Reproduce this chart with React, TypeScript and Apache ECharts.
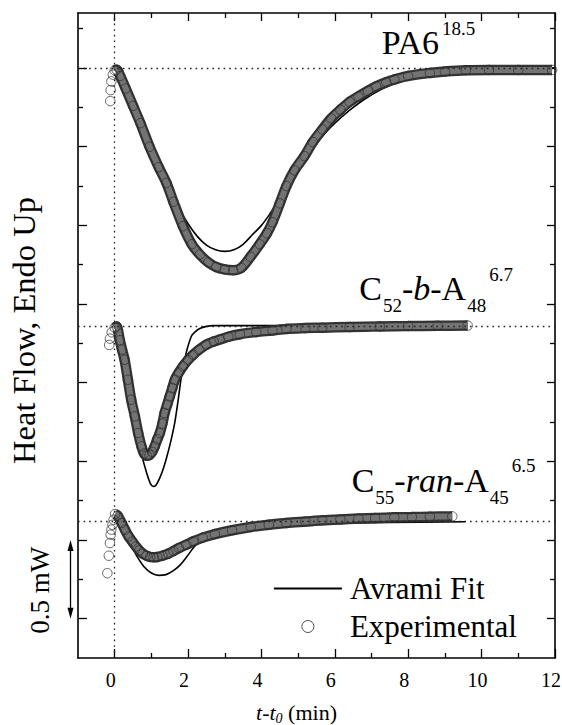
import React, { useEffect, useRef } from "react";
import * as echarts from "echarts";

// ---------- axes ----------
const xMin = -1;
const xMax = 12;
const yMin = 0;
const yMax = 4.1;
const xMajorTicks = [0, 2, 4, 6, 8, 10, 12];
const xMinorTicks = [1, 3, 5, 7, 9, 11];
const yMajorTicks = [0.25, 0.75, 1.25, 1.75, 2.25, 2.75, 3.25, 3.75];
const yMinorTicks = [0.5, 1, 1.5, 2, 2.5, 3, 3.5, 4];

// ---------- dotted reference lines ----------
const baselines = [3.755, 2.113, 0.868];
const onsetX = [0];
const scaleBar = [0.25, 0.75]; // 0.5 mW

// ---------- PA6 18.5 ----------
const pa6PreX = [-0.12, -0.11, -0.09, -0.05];
const pa6PreY = [3.54, 3.61, 3.665, 3.708];
const pa6ExpX = [0, 0.05, 0.15, 0.3, 0.5, 0.7, 0.95, 1.2, 1.41, 1.6, 1.86, 2.1, 2.32, 2.55, 2.77, 3.0, 3.23, 3.45, 3.7, 3.95, 4.15, 4.3, 4.5, 4.68, 4.9, 5.17, 5.4, 5.66, 5.9, 6.15, 6.4, 6.64, 6.9, 7.13, 7.4, 7.62, 8.0, 8.59, 9.0, 9.57, 10.2, 11.0, 11.92];
const pa6ExpY = [3.735, 3.74, 3.70, 3.62, 3.51, 3.40, 3.25, 3.12, 3.02, 2.90, 2.745, 2.63, 2.565, 2.515, 2.485, 2.47, 2.465, 2.48, 2.55, 2.63, 2.70, 2.77, 2.89, 3.0, 3.10, 3.19, 3.28, 3.36, 3.43, 3.485, 3.535, 3.57, 3.605, 3.634, 3.66, 3.677, 3.70, 3.719, 3.728, 3.736, 3.738, 3.738, 3.738];
const pa6FitX = [0, 0.25, 0.5, 0.75, 1.0, 1.25, 1.5, 1.75, 2.0, 2.25, 2.5, 2.75, 3.0, 3.25, 3.5, 3.75, 4.0, 4.25, 4.5, 4.75, 5.0, 5.25, 5.5, 5.75, 6.0, 6.5, 7.0, 7.5, 8.0, 8.5, 9.0, 10.0, 11.0, 12.0];
const pa6FitY = [3.755, 3.66, 3.53, 3.39, 3.25, 3.11, 2.98, 2.86, 2.76, 2.68, 2.625, 2.595, 2.585, 2.595, 2.63, 2.69, 2.75, 2.83, 2.92, 3.01, 3.10, 3.19, 3.27, 3.34, 3.40, 3.50, 3.58, 3.64, 3.68, 3.71, 3.73, 3.745, 3.75, 3.752];

// ---------- C52-b-A48 6.7 ----------
const c52PreX = [-0.15, -0.13, -0.08];
const c52PreY = [1.99, 2.03, 2.07];
const c52ExpX = [0, 0.05, 0.14, 0.2, 0.27, 0.36, 0.45, 0.55, 0.64, 0.73, 0.8, 0.88, 0.95, 1.02, 1.09, 1.16, 1.23, 1.3, 1.36, 1.43, 1.5, 1.57, 1.64, 1.75, 1.86, 2.0, 2.14, 2.3, 2.5, 2.7, 2.86, 3.1, 3.41, 3.86, 4.3, 4.68, 5.2, 5.66, 6.4, 7.23, 8.0, 8.8, 9.62];
const c52ExpY = [2.10, 2.108, 2.02, 1.96, 1.896, 1.769, 1.642, 1.536, 1.43, 1.345, 1.30, 1.286, 1.29, 1.31, 1.345, 1.39, 1.43, 1.49, 1.557, 1.61, 1.663, 1.716, 1.769, 1.815, 1.854, 1.895, 1.928, 1.96, 1.992, 2.012, 2.024, 2.042, 2.058, 2.072, 2.082, 2.092, 2.097, 2.10, 2.104, 2.108, 2.11, 2.112, 2.113];
const c52FitX = [0, 0.15, 0.3, 0.45, 0.6, 0.75, 0.88, 0.97, 1.05, 1.13, 1.22, 1.32, 1.41, 1.5, 1.57, 1.64, 1.73, 1.82, 1.95, 2.09, 2.2, 2.32, 2.5, 2.68, 3.0, 4.0, 6.0, 8.0, 9.6];
const c52FitY = [2.113, 2.05, 1.90, 1.69, 1.47, 1.28, 1.17, 1.11, 1.09, 1.10, 1.14, 1.20, 1.27, 1.35, 1.42, 1.50, 1.64, 1.79, 1.94, 2.045, 2.075, 2.095, 2.108, 2.113, 2.113, 2.113, 2.113, 2.113, 2.113];

// ---------- C55-ran-A45 6.5 ----------
const c55PreX = [-0.2, -0.16, -0.13, -0.11, -0.09, -0.06, -0.03];
const c55PreY = [0.539, 0.65, 0.731, 0.784, 0.816, 0.847, 0.879];
const c55ExpX = [0.01, 0.08, 0.19, 0.28, 0.38, 0.48, 0.58, 0.67, 0.77, 0.87, 0.97, 1.06, 1.16, 1.3, 1.46, 1.6, 1.75, 1.95, 2.14, 2.4, 2.73, 3.2, 3.71, 4.2, 4.68, 5.2, 5.66, 6.15, 6.64, 7.1, 7.62, 8.1, 8.59, 9.2];
const c55ExpY = [0.915, 0.905, 0.858, 0.815, 0.773, 0.74, 0.709, 0.684, 0.663, 0.65, 0.642, 0.64, 0.642, 0.65, 0.663, 0.68, 0.699, 0.72, 0.741, 0.765, 0.788, 0.812, 0.833, 0.847, 0.858, 0.867, 0.875, 0.881, 0.886, 0.89, 0.894, 0.896, 0.898, 0.90];
const c55FitX = [0, 0.2, 0.4, 0.6, 0.8, 1.0, 1.2, 1.4, 1.6, 1.8, 2.0, 2.2, 2.4, 2.8, 3.5, 4.5, 6.0, 7.5, 9.55];
const c55FitY = [0.90, 0.84, 0.74, 0.65, 0.58, 0.54, 0.525, 0.53, 0.555, 0.595, 0.655, 0.715, 0.75, 0.785, 0.815, 0.84, 0.855, 0.862, 0.866];

const FONT = '"Liberation Serif", "Times New Roman", Times, serif';

const zip = (xs: number[], ys: number[]) => xs.map((x, i) => [x, ys[i]]);

const curves = [
  { fitX: pa6FitX, fitY: pa6FitY, expX: pa6ExpX, expY: pa6ExpY, preX: pa6PreX, preY: pa6PreY },
  { fitX: c52FitX, fitY: c52FitY, expX: c52ExpX, expY: c52ExpY, preX: c52PreX, preY: c52PreY },
  { fitX: c55FitX, fitY: c55FitY, expX: c55ExpX, expY: c55ExpY, preX: c55PreX, preY: c55PreY },
];

const mkX = (pos: string, ticks: number[], len: number, line: boolean) => ({
  type: "value",
  min: xMin,
  max: xMax,
  position: pos,
  axisLine: { show: line, onZero: false, lineStyle: { color: "#000", width: 1.6 } },
  axisTick: { show: true, inside: true, length: len, customValues: ticks, lineStyle: { color: "#000", width: 1.3 } },
  axisLabel: { show: false },
  splitLine: { show: false },
  axisPointer: { show: false },
});
const mkY = (pos: string, ticks: number[], len: number, line: boolean) => ({
  type: "value",
  min: yMin,
  max: yMax,
  position: pos,
  axisLine: { show: line, onZero: false, lineStyle: { color: "#000", width: 1.6 } },
  axisTick: { show: true, inside: true, length: len, customValues: ticks, lineStyle: { color: "#000", width: 1.3 } },
  axisLabel: { show: false },
  splitLine: { show: false },
  axisPointer: { show: false },
});

const labelRich = {
  m: { fontSize: 34, fontFamily: FONT, fill: "#000" },
  mi: { fontSize: 34, fontFamily: FONT, fontStyle: "italic", fill: "#000" },
  sub: { fontSize: 19, fontFamily: FONT, fill: "#000", padding: [34, 0, 0, 1] },
  sup: { fontSize: 19, fontFamily: FONT, fill: "#000", padding: [0, 0, 29, 3] },
};

export default function App() {
  const ref = useRef<HTMLDivElement>(null);
  useEffect(() => {
    const el = ref.current!;
    const chart = echarts.init(el, null, { renderer: "svg" });

    const series: any[] = [];
    curves.forEach((c, i) => {
      series.push({
        type: "line",
        name: "Avrami Fit",
        data: zip(c.fitX, c.fitY),
        symbol: "none",
        smooth: 0.35,
        lineStyle: { color: "#000", width: 1.6 },
        itemStyle: { color: "#000" },
        z: 2,
        silent: true,
        markLine:
          i === 0
            ? {
                silent: true,
                symbol: "none",
                label: { show: false },
                lineStyle: { color: "#222", type: [1.6, 4], width: 1.3 },
                data: [
                  ...baselines.map((v) => ({ yAxis: v })),
                  ...onsetX.map((v) => ({ xAxis: v })),
                ],
              }
            : undefined,
      });
      series.push({
        type: "line",
        name: "band-outer-" + i,
        data: zip(c.expX, c.expY),
        symbol: "none",
        smooth: 0.3,
        lineStyle: { color: "#333333", width: 10.5 },
        z: 3,
        silent: true,
      });
      series.push({
        type: "line",
        name: "band-inner-" + i,
        data: zip(c.expX, c.expY),
        symbol: "none",
        smooth: 0.3,
        lineStyle: { color: "#737373", width: 6 },
        z: 4,
        silent: true,
      });
      series.push({
        type: "scatter",
        name: "Experimental",
        data: zip(c.preX, c.preY).concat(zip(c.expX, c.expY)),
        symbol: "circle",
        symbolSize: 9.5,
        itemStyle: { color: "rgba(255,255,255,0)", borderColor: "#2e2e2e", borderWidth: 0.9 },
        z: 5,
        silent: true,
      });
    });

    chart.setOption({
      animation: false,
      backgroundColor: "#fff",
      textStyle: { fontFamily: FONT },
      grid: { left: 78, right: 7, top: 13, bottom: 67, containLabel: false, outerBoundsMode: "none" },
      xAxis: [
        {
          ...mkX("bottom", xMajorTicks, 9, true),
          axisLabel: {
            show: true,
            customValues: xMajorTicks,
            fontSize: 20,
            fontFamily: FONT,
            color: "#000",
            margin: 12,
            padding: [0, 8, 0, 0],
          },
          name: "{i|t}-{i|t}{sub|0} (min)",
          nameLocation: "middle",
          nameGap: 41,
          nameTextStyle: {
            fontSize: 22,
            fontFamily: FONT,
            color: "#000",
            padding: [0, 40, 0, 0],
            rich: {
              i: { fontSize: 22, fontStyle: "italic", fontFamily: FONT, color: "#000" },
              sub: { fontSize: 14, fontStyle: "italic", fontFamily: FONT, color: "#000", padding: [12, 0, 0, 0] },
            },
          },
        },
        mkX("bottom", xMinorTicks, 5, false),
        mkX("top", xMajorTicks, 8, true),
        mkX("top", xMinorTicks, 5, false),
      ],
      yAxis: [
        {
          ...mkY("left", yMajorTicks, 9, true),
          name: "Heat Flow, Endo Up",
          nameLocation: "middle",
          nameRotate: 90,
          nameGap: 38,
          nameTextStyle: { fontSize: 32.5, fontFamily: FONT, color: "#000", padding: [0, 0, 0, 10] },
        },
        mkY("left", yMinorTicks, 5, false),
        mkY("right", yMajorTicks, 8, true),
        mkY("right", yMinorTicks, 5, false),
      ],
      legend: {
        orient: "vertical",
        left: 273,
        top: 573,
        padding: 0,
        itemWidth: 68,
        itemHeight: 12,
        itemGap: 7,
        selectedMode: false,
        lineStyle: { width: 1.8, color: "#000" },
        textStyle: { fontSize: 31, fontFamily: FONT, color: "#000", padding: [0, 0, 0, 3] },
        data: [
          {
            name: "Avrami Fit",
            itemStyle: { color: "rgba(0,0,0,0)", borderWidth: 0, opacity: 0 },
            lineStyle: { width: 1.8, color: "#000", opacity: 1 },
          },
          {
            name: "Experimental",
            icon: "circle",
            itemStyle: { color: "#fff", borderColor: "#222", borderWidth: 1 },
          },
        ],
      },
      series,
      graphic: [
        {
          id: "lbl-pa6",
          type: "text",
          x: 381.7,
          y: 42.8,
          z: 10,
          style: { text: "{m|PA6}{sup|18.5}", rich: labelRich, align: "left", verticalAlign: "middle", fontFamily: FONT, fontSize: 34, fill: "#000" },
        },
        {
          id: "lbl-c52",
          type: "text",
          x: 359.3,
          y: 288.5,
          z: 10,
          style: {
            text: "{m|C}{sub|52}{m|-}{mi|b}{m|-A}{sub|48}{sup|6.7}",
            rich: labelRich,
            align: "left",
            verticalAlign: "middle",
            fontFamily: FONT,
            fontSize: 34,
            fill: "#000",
          },
        },
        {
          id: "lbl-c55",
          type: "text",
          x: 351.7,
          y: 480.2,
          z: 10,
          style: {
            text: "{m|C}{sub|55}{m|-}{mi|ran}{m|-A}{sub|45}{sup|6.5}",
            rich: labelRich,
            align: "left",
            verticalAlign: "middle",
            fontFamily: FONT,
            fontSize: 34,
            fill: "#000",
          },
        },
      ],
    });

    // scale bar (0.5 mW) to the left of the axis, in data units
    const p0 = chart.convertToPixel({ xAxisIndex: 0, yAxisIndex: 0 }, [xMin, scaleBar[0]]) as number[];
    const p1 = chart.convertToPixel({ xAxisIndex: 0, yAxisIndex: 0 }, [xMin, scaleBar[1]]) as number[];
    if (p0 && p1) {
      const ax = p0[0] - 7.5;
      const yb = p0[1];
      const yt = p1[1];
      chart.setOption({
        graphic: [
          {
            id: "bar-line",
            type: "line",
            shape: { x1: ax, y1: yt + 6, x2: ax, y2: yb - 6 },
            style: { stroke: "#000", lineWidth: 1.3 },
          },
          {
            id: "bar-top",
            type: "polygon",
            shape: { points: [[ax, yt], [ax - 3, yt + 11], [ax + 3, yt + 11]] },
            style: { fill: "#000" },
          },
          {
            id: "bar-bot",
            type: "polygon",
            shape: { points: [[ax, yb], [ax - 3, yb - 11], [ax + 3, yb - 11]] },
            style: { fill: "#000" },
          },
          {
            id: "bar-text",
            type: "text",
            x: ax - 31,
            y: (yt + yb) / 2 + 11,
            rotation: Math.PI / 2,
            style: {
              text: "0.5 mW",
              fontSize: 27,
              fontFamily: FONT,
              fill: "#000",
              align: "center",
              verticalAlign: "middle",
            },
          },
        ],
      });
    }

    return () => chart.dispose();
  }, []);

  return (
    <div
      ref={ref}
      style={{ position: "fixed", left: 0, top: 0, width: 562, height: 725, background: "#fff" }}
    />
  );
}
